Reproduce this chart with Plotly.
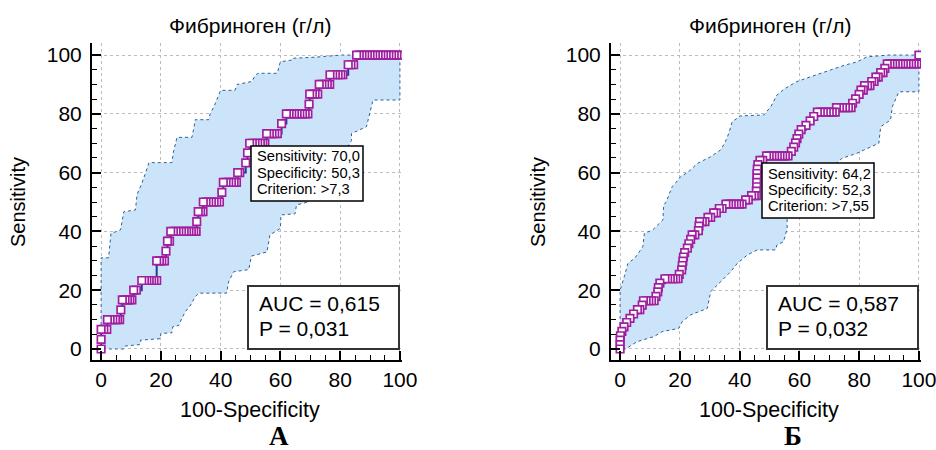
import plotly.graph_objects as go

W, H = 936, 450

# ---------------- Panel A data ----------------
a_sens = [0, 3.3, 6.7, 10, 13.3, 16.7, 20, 23.3, 30, 33.3, 36.7, 40, 43.3, 46.7, 50,
          53.3, 56.7, 60, 63.3, 66.7, 70, 73.3, 76.7, 80, 83.3, 86.7, 90, 93.3, 96.7, 100]
a_fpr = [
    [0],
    [0],
    [0, 0.9, 1.9],
    [2.1, 3.0, 3.9, 4.8, 5.5, 6.2],
    [6.6],
    [7.1, 8.0, 8.8, 9.6, 10.3],
    [10.9, 11.8],
    [13.6, 14.5, 15.3, 16.1, 16.9, 17.7, 18.6],
    [18.6, 19.5, 20.3, 21.2],
    [21.7],
    [22.2, 22.9],
    [23.3, 24.2, 25.1, 26.0, 26.9, 27.8, 28.6, 29.4, 30.2, 31.0, 31.8],
    [32.0],
    [32.5, 33.3, 34.1],
    [34.2, 35.1, 36.0, 36.9, 37.8, 38.7, 39.6],
    [40.4],
    [40.9, 41.8, 42.7, 43.6, 44.5, 45.3],
    [45.7, 46.4],
    [48.4],
    [49.0],
    [49.7, 50.6, 51.5, 52.4, 53.3, 54.1, 54.8],
    [55.4, 56.3, 57.2, 58.1, 59.0],
    [60.4],
    [62.0, 62.9, 63.8, 64.7, 65.6, 66.5, 67.4, 68.3, 69.2],
    [69.6],
    [69.8, 70.7, 71.6, 72.5],
    [73.0, 73.9, 74.8, 75.7, 76.5],
    [76.6, 77.5, 78.4, 79.3, 80.2, 80.9],
    [82.7, 83.6, 84.5],
    [85.5, 86.4, 87.3, 88.2, 89.1, 90.0, 90.9, 91.8, 92.7, 93.6, 94.5, 95.4, 96.3, 97.2, 98.1, 99.0, 100],
]
a_up_x = [0, 0, 2.5, 3, 3.3, 6.5, 7, 7.6, 11.5, 12, 12.6, 13.5, 14.8, 16, 23.7, 24.2, 25.4, 30.4, 31,
          31.5, 36, 36.5, 38, 40, 44.8, 45.5, 50.5, 51.5, 52.5, 59, 59.5, 60, 63.8, 64, 72, 80.5, 100]
a_up_y = [0, 31, 31, 35, 39.3, 40.5, 44, 46.7, 47.3, 52.4, 54, 56, 59.7, 63.4, 63.4, 67, 72, 72, 75,
          78, 78, 80, 83, 88, 88, 90, 91, 93, 93.8, 93.8, 96, 97.7, 98.3, 98.9, 99.3, 100, 100]
a_lo_x = [0, 7.6, 8, 13, 13.2, 19.8, 20, 23.7, 24, 26, 27, 28.2, 30, 31.5, 32.7, 42, 42.7, 44.4, 49.4,
          50.3, 55.5, 56.5, 60, 60.2, 64.9, 65.4, 69.2, 72, 75, 78, 81, 83.8, 83.8, 88.8, 91, 100, 100]
a_lo_y = [0, 0, 1, 1.5, 3, 3.5, 5.3, 5.5, 7.6, 8, 10.4, 12.7, 15, 17.8, 19, 19, 23, 26.3, 27,
          31.6, 33, 38.8, 41, 45.6, 46, 49, 50, 53, 57, 62, 66, 71, 73.3, 75.6, 84.7, 84.7, 100]

# ---------------- Panel Б data ----------------
b_sens = [0, 1.5, 3.0, 4.5, 6.0, 7.5, 9.0, 10.4, 11.9, 13.4, 14.9, 16.4, 17.9, 19.4, 20.9, 22.4,
          23.9, 25.4, 26.9, 28.4, 29.9, 31.3, 32.8, 34.3, 35.8, 37.3, 38.8, 40.3, 41.8, 43.3, 44.8,
          46.3, 47.8, 49.3, 50.7, 52.2, 53.7, 55.2, 56.7, 58.2, 59.7, 61.2, 62.7, 64.2, 65.7, 67.2,
          68.7, 70.1, 71.6, 73.1, 74.6, 76.1, 77.6, 79.1, 80.6, 82.1, 83.6, 85.1, 86.6, 88.1, 89.6,
          91.0, 92.5, 94.0, 95.5, 97.0, 100]
b_fpr = [
    [0], [0], [0], [0.1], [0.6], [1.3], [2.2], [3.3], [4.5],
    [5.8, 6.6],
    [7.4],
    [7.8, 8.7, 9.6, 10.5, 11.4],
    [12.0], [12.6], [12.8], [13.3],
    [15.0, 15.9, 16.8, 17.7, 18.6, 19.4],
    [19.8], [20.6], [20.8], [21.0], [21.2], [21.6], [22.5], [23.0], [23.6],
    [24.1, 25.0],
    [26.2], [26.4],
    [26.6, 27.5, 28.4],
    [29.4, 30.3],
    [31.3, 32.2],
    [33.2, 34.1],
    [35.4, 36.3, 37.2, 38.1, 39.0, 39.9, 40.8],
    [42.0, 42.9],
    [44.0, 44.9, 45.6],
    [45.6], [45.7], [45.7], [45.8], [45.8], [45.9], [46.1],
    [46.8, 47.7],
    [49.0, 49.9, 50.8, 51.7, 52.6, 53.5, 54.4, 55.3, 56.2],
    [57.3], [58.1], [58.7], [59.2], [59.8], [60.6], [62.2], [63.6], [64.8],
    [66.0, 67.0, 68.0, 69.0, 70.0, 71.0, 72.0],
    [72.4, 73.4, 74.4, 75.4, 76.4, 77.3],
    [77.8], [78.8], [80.0],
    [80.6, 81.4],
    [81.8, 82.8, 83.6],
    [84.2, 85.0],
    [85.6, 86.4],
    [87.2, 88.0],
    [88.6],
    [89.4, 90.3, 91.2, 92.1, 93.0, 93.9, 94.8, 95.7, 96.6, 97.5, 98.4, 99.3, 100],
    [100],
]
b_up_x = [0, 0, 1.4, 2.6, 5, 7.6, 8.1, 10.9, 14.3, 14.6, 15.4, 17.4, 18.2, 19.3, 20.2, 22.1, 23.6,
          25.8, 30.3, 33.6, 35, 36.4, 37.5, 40.3, 48.1, 50.4, 52.5, 55, 59.2, 63.7, 70.4, 75, 79.3,
          82.7, 90, 100]
b_up_y = [0, 20, 24.6, 29.1, 31, 34.8, 39.3, 40.5, 43.9, 49, 50, 55.2, 56, 57.5, 58.6, 59.8, 60.9,
          63.1, 65.4, 67.7, 70, 73.4, 77.3, 79.3, 79.6, 82.4, 86.4, 88.5, 91, 92.6, 94.9, 96.5, 97.7,
          99.4, 100, 100]
b_lo_x = [0, 1.8, 5.7, 11.3, 14.1, 19.6, 20.8, 23.6, 29.2, 30.3, 33.6, 37, 39.2, 42.6, 45.9, 52,
          52.5, 54.7, 55.9, 55.9, 58, 62, 66, 70, 74.3, 79.3, 81.6, 86.6, 87.2, 90.5, 91.1, 93.3, 100, 100]
b_lo_y = [0, 0, 2.5, 4.2, 5.9, 7, 9.3, 11.6, 13.8, 19.5, 22.9, 26.3, 29.1, 32, 33.7, 33.7,
          35.4, 36.5, 41, 44.2, 50, 54, 58, 61, 64.9, 66.6, 67.7, 70, 75.6, 77.9, 82.4, 87.5, 87.5, 100]

panel_title = "Фибриноген (г/л)"
x_title = "100-Specificity"
y_title = "Sensitivity"
panels = [
    dict(fpr=a_fpr, sens=a_sens, upx=a_up_x, upy=a_up_y, lox=a_lo_x, loy=a_lo_y,
         stats=["Sensitivity: 70,0", "Specificity: 50,3", "Criterion: >7,3"],
         auc=["AUC = 0,615", "P = 0,031"], letter="А"),
    dict(fpr=b_fpr, sens=b_sens, upx=b_up_x, upy=b_up_y, lox=b_lo_x, loy=b_lo_y,
         stats=["Sensitivity: 64,2", "Specificity: 52,3", "Criterion: >7,55"],
         auc=["AUC = 0,587", "P = 0,032"], letter="Б"),
]
tick_vals = [0, 20, 40, 60, 80, 100]

# ---------------- styles / layout (pixel positions) ----------------
FONT = "Liberation Sans, Arial, sans-serif"
BAND_FILL = "rgb(204,228,250)"
BAND_LINE = "#2f5f95"
ROC_LINE = "#1d3d96"
MARK_LINE = "#a01fa0"

geo = [
    dict(x0=92, x1=402, title_x=250, xt_x=250, yt_x=18, letter_x=279,
         sbox=(251, 146, 363, 201), stext_x=255, stext_y=[156, 173, 189],
         abox=(248, 286, 399, 349), atext_x=257),
    dict(x0=611, x1=921, title_x=770, xt_x=769, yt_x=538, letter_x=793,
         sbox=(762, 163, 874, 218), stext_x=766, stext_y=[174, 190, 206],
         abox=(767, 286, 918, 349), atext_x=776),
]
PY0, PY1 = 43, 360

def px(x):
    return x / W

def py(y):
    return 1 - y / H

fig = go.Figure()
annotations = []
shapes = []

for i, (p, g) in enumerate(zip(panels, geo)):
    sfx = "" if i == 0 else "2"
    xa, ya = "x" + sfx, "y" + sfx
    xs, ys = [], []
    for s, row in zip(p["sens"], p["fpr"]):
        for f in row:
            xs.append(f)
            ys.append(s)
    bx = p["upx"] + p["lox"][::-1]
    by = p["upy"] + p["loy"][::-1]
    fig.add_trace(go.Scatter(x=bx, y=by, mode="lines", fill="toself", fillcolor=BAND_FILL,
                             line=dict(color=BAND_LINE, width=1, dash="dot"),
                             hoverinfo="skip", showlegend=False, xaxis=xa, yaxis=ya))
    fig.add_trace(go.Scatter(x=xs, y=ys, mode="lines", line=dict(color=ROC_LINE, width=2, shape="hv"),
                             showlegend=False, xaxis=xa, yaxis=ya))
    fig.add_trace(go.Scatter(x=xs[::-1], y=ys[::-1], mode="markers",
                             marker=dict(symbol="square", size=7.5, color="white",
                                         line=dict(color=MARK_LINE, width=1.7)),
                             showlegend=False, xaxis=xa, yaxis=ya))

    axis_common = dict(
        showline=True, linecolor="black", linewidth=2, mirror=False,
        showgrid=True, gridcolor="#bcbcbc", gridwidth=1, griddash="dot",
        zeroline=False, tickmode="array", tickvals=tick_vals,
        ticks="inside", ticklen=9, tickwidth=1.5, tickcolor="black",
        minor=dict(dtick=5, tick0=0, ticks="inside", ticklen=5, tickwidth=1.2,
                   tickcolor="black", showgrid=False),
        tickfont=dict(family=FONT, size=21, color="black"),
        automargin=False, fixedrange=True, ticklabeloverflow="allow",
    )
    fig.update_layout(**{
        "xaxis" + sfx: dict(axis_common, domain=[px(g["x0"]), px(g["x1"])], range=[-3.05, 100.7],
                            anchor=ya, ticklabelstandoff=0),
        "yaxis" + sfx: dict(axis_common, domain=[py(PY1), py(PY0)], range=[-3.75, 104.1],
                            anchor=xa, ticklabelstandoff=4),
    })

    annotations.append(dict(text=panel_title, x=px(g["title_x"]), y=py(25), xref="paper", yref="paper",
                            xanchor="center", yanchor="middle", showarrow=False,
                            font=dict(family=FONT, size=21, color="black")))
    annotations.append(dict(text=x_title, x=px(g["xt_x"]), y=py(410), xref="paper", yref="paper",
                            xanchor="center", yanchor="middle", showarrow=False,
                            font=dict(family=FONT, size=21.5, color="black")))
    annotations.append(dict(text=y_title, x=px(g["yt_x"]), y=py(202), xref="paper", yref="paper",
                            xanchor="center", yanchor="middle", showarrow=False, textangle=-90,
                            font=dict(family=FONT, size=20, color="black")))
    annotations.append(dict(text="<b>" + p["letter"] + "</b>", x=px(g["letter_x"]), y=py(436),
                            xref="paper", yref="paper", xanchor="center", yanchor="middle",
                            showarrow=False,
                            font=dict(family="Liberation Serif, Times New Roman, serif", size=27,
                                      color="black")))
    x0, y0, x1, y1 = g["sbox"]
    shapes.append(dict(type="rect", xref="paper", yref="paper", x0=px(x0), x1=px(x1), y0=py(y1), y1=py(y0),
                       line=dict(color="black", width=1.5), fillcolor="white", layer="above"))
    for t, yy in zip(p["stats"], g["stext_y"]):
        annotations.append(dict(text=t, x=px(g["stext_x"]), y=py(yy), xref="paper", yref="paper",
                                xanchor="left", yanchor="middle", showarrow=False,
                                font=dict(family=FONT, size=14.7, color="black")))
    x0, y0, x1, y1 = g["abox"]
    shapes.append(dict(type="rect", xref="paper", yref="paper", x0=px(x0), x1=px(x1), y0=py(y1), y1=py(y0),
                       line=dict(color="#333333", width=2), fillcolor="white", layer="above"))
    for t, yy in zip(p["auc"], [303, 328]):
        annotations.append(dict(text=t, x=px(g["atext_x"]), y=py(yy), xref="paper", yref="paper",
                                xanchor="left", yanchor="middle", showarrow=False,
                                font=dict(family=FONT, size=21, color="black")))

fig.update_layout(
    width=W, height=H, margin=dict(l=0, r=0, t=0, b=0),
    paper_bgcolor="white", plot_bgcolor="white",
    showlegend=False, annotations=annotations, shapes=shapes,
    template="none",
)

fig.write_html("out.html")
